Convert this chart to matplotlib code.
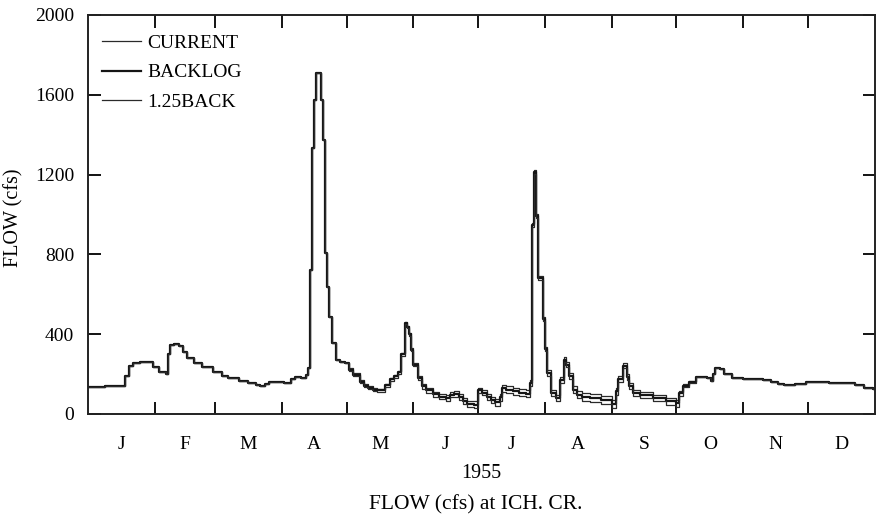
import matplotlib
matplotlib.use("Agg")
import matplotlib.pyplot as plt
import numpy as np

plt.rcParams["font.family"] = ["Liberation Serif", "DejaVu Serif"]

# day of year (0 = Jan 1) where the daily flow changes, and flow in cfs
days = [0, 8, 15, 17, 19, 21, 24, 27, 30, 33, 36, 37, 38, 40, 42, 44, 46, 49,
        53, 58, 62, 65, 70, 74, 78, 80, 82, 84, 88, 91, 94, 96, 99, 101, 102,
        103, 104, 105, 106, 108, 109, 110, 111, 112, 113, 115, 117, 119, 121,
        123, 126, 128, 130, 132, 134, 136, 138, 140, 142, 144, 145, 147, 148,
        149, 150, 151, 153, 155, 157, 160, 163, 166, 168, 170, 172, 174, 176,
        179, 181, 183, 185, 187, 189, 191, 192, 194, 197, 200, 203, 205, 206,
        207, 208, 209, 211, 212, 213, 215, 217, 219, 221, 222, 223, 225, 227,
        229, 233, 238, 243, 245, 246, 248, 250, 251, 253, 256, 262, 268, 273,
        274, 276, 279, 282, 285, 287, 289, 290, 291, 293, 295, 299, 304, 309,
        313, 317, 320, 323, 328, 333, 338, 344, 348, 352, 356, 360, 364, 365]

current = [136, 138, 140, 190, 240, 255, 262, 258, 235, 210, 200, 300, 345, 350,
           340, 310, 280, 255, 235, 210, 190, 180, 165, 155, 145, 140, 150, 160,
           158, 155, 175, 185, 180, 195, 230, 720, 1333, 1574, 1709, 1574, 1373,
           807, 637, 486, 356, 271, 260, 255, 230, 205, 170, 150, 140, 130, 125,
           125, 150, 180, 195, 215, 305, 460, 440, 405, 330, 255, 190, 150, 130,
           110, 100, 95, 110, 112, 100, 80, 65, 62, 130, 120, 100, 85, 75, 100,
           145, 140, 130, 125, 120, 170, 955, 1222, 1000, 690, 486, 336, 220, 120,
           95, 185, 285, 260, 205, 140, 115, 105, 100, 90, 70, 130, 190, 255, 200,
           155, 120, 110, 95, 80, 70, 115, 150, 165, 185, 185, 180, 165, 200, 230,
           225, 200, 178, 175, 175, 170, 160, 150, 145, 150, 160, 158, 155, 157,
           155, 145, 132, 125, 125]

backlog = [136, 138, 140, 190, 240, 255, 262, 258, 235, 210, 200, 300, 345, 350,
           340, 310, 280, 255, 235, 210, 190, 180, 165, 155, 145, 140, 150, 160,
           158, 155, 175, 185, 180, 195, 230, 720, 1333, 1574, 1709, 1574, 1373,
           807, 637, 486, 356, 271, 260, 255, 222, 197, 162, 142, 132, 122, 117,
           117, 143, 173, 188, 208, 298, 455, 435, 398, 322, 246, 180, 138, 117,
           97, 86, 80, 96, 98, 85, 64, 48, 45, 118, 106, 85, 68, 57, 82, 128, 122,
           112, 106, 100, 155, 945, 1212, 990, 680, 475, 325, 205, 104, 78, 170,
           272, 247, 190, 122, 96, 85, 80, 70, 48, 112, 175, 242, 186, 140, 105,
           95, 78, 62, 52, 102, 142, 161, 185, 185, 180, 165, 200, 230, 225, 200,
           178, 175, 175, 170, 160, 150, 145, 150, 160, 158, 155, 157, 155, 145,
           132, 125, 125]

back125 = [136, 138, 140, 190, 240, 255, 262, 258, 235, 210, 200, 300, 345, 350,
           340, 310, 280, 255, 235, 210, 190, 180, 165, 155, 145, 140, 150, 160,
           158, 155, 175, 185, 180, 195, 230, 720, 1333, 1574, 1709, 1574, 1373,
           807, 637, 486, 356, 271, 260, 255, 215, 190, 155, 135, 125, 115, 110,
           110, 136, 166, 181, 200, 290, 450, 430, 392, 315, 238, 170, 127, 105,
           85, 72, 66, 82, 84, 70, 48, 32, 28, 106, 92, 70, 52, 40, 65, 110, 104,
           94, 88, 82, 140, 935, 1202, 980, 670, 464, 314, 192, 88, 62, 155, 260,
           234, 176, 105, 78, 65, 60, 50, 28, 95, 160, 230, 172, 125, 90, 80, 62,
           45, 35, 90, 135, 157, 185, 185, 180, 165, 200, 230, 225, 200, 178, 175,
           175, 170, 160, 150, 145, 150, 160, 158, 155, 157, 155, 145, 132, 125,
           125]

month_labels = ["J", "F", "M", "A", "M", "J", "J", "A", "S", "O", "N", "D"]
month_len = [31, 28, 31, 30, 31, 30, 31, 31, 30, 31, 30, 31]
y_ticks = [0, 400, 800, 1200, 1600, 2000]

fig = plt.figure(figsize=(8.76, 5.16), dpi=100)
ax = fig.add_axes([0.1005, 0.198, 0.898, 0.773])

ax.step(days, current, where="post", color="#2a2a2a", lw=0.9, label="CURRENT")
ax.step(days, backlog, where="post", color="#151515", lw=1.6, label="BACKLOG")
ax.step(days, back125, where="post", color="#2a2a2a", lw=0.9, label="1.25BACK")

edges = np.cumsum([0] + month_len)
ax.set_xlim(0, 365)
ax.set_ylim(0, 2000)

ax.set_xticks(edges[1:-1])
ax.set_xticklabels([])
ax.set_xticks((edges[:-1] + edges[1:]) / 2, minor=True)
ax.set_xticklabels(month_labels, minor=True, fontsize=14)
ax.tick_params(axis="x", which="major", direction="in", length=9, width=1.3,
               top=True, bottom=True)
ax.tick_params(axis="x", which="minor", length=0, pad=16)

ax.set_yticks(y_ticks)
ax.set_yticklabels([str(v) for v in y_ticks], fontsize=14)
ax.tick_params(axis="y", direction="in", length=9, width=1.3, left=True,
               right=True, pad=10)

for s in ax.spines.values():
    s.set_linewidth(1.4)
    s.set_color("#222222")

fig.text(14 / 876, 1 - 218 / 516, "FLOW (cfs)", rotation=90, ha="center",
         va="center", fontsize=14.5)
fig.text(481 / 876, 1 - 474 / 516, "1955", ha="center", va="center",
         fontsize=14.5)
fig.text(476 / 876, 1 - 505 / 516, "FLOW (cfs) at ICH. CR.", ha="center",
         va="center", fontsize=15.5)

ax.legend(loc="upper left", frameon=False, fontsize=14, handlelength=2.0,
          handletextpad=0.3, labelspacing=0.63, borderaxespad=0, borderpad=0,
          bbox_to_anchor=(0.018, 0.9525))

fig.savefig("out.png", dpi=100)
